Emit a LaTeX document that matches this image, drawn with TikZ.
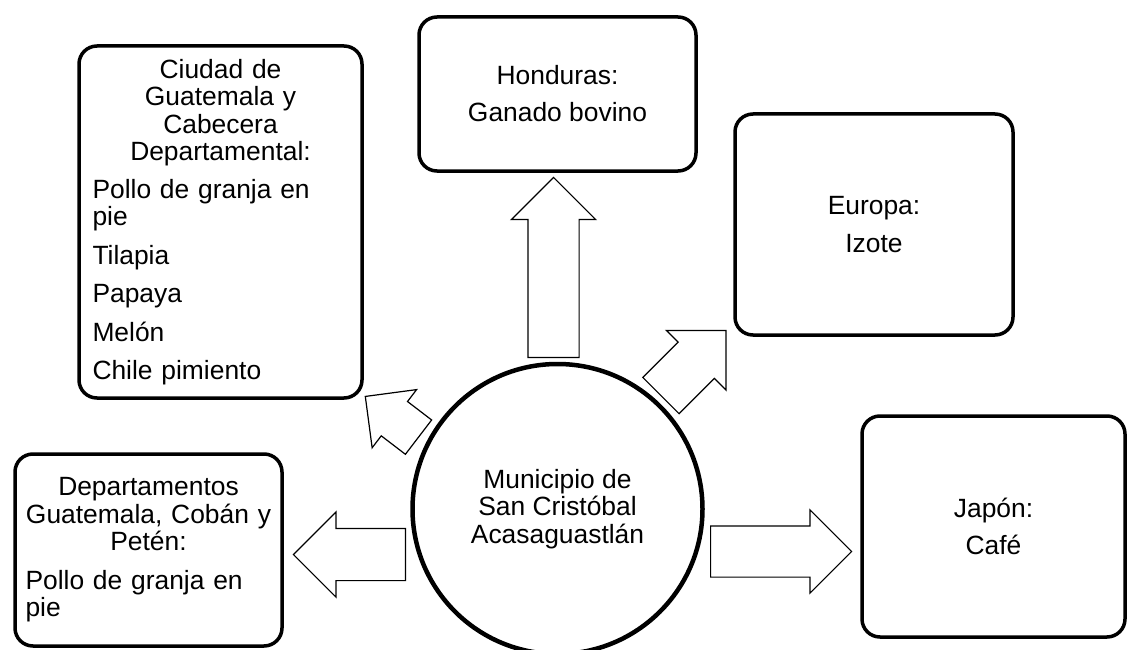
\documentclass[tikz,border=0pt]{standalone}
\usepackage{fontspec}
\setmainfont{Liberation Sans}
\usetikzlibrary{shapes.arrows}

\tikzstyle{caja} = [rectangle, rounded corners=18pt, draw=black, line width=3.5pt, inner sep=0pt]
\tikzstyle{flecha} = [single arrow, draw=black, line width=1.2pt, inner xsep=0pt, single arrow tip angle=90, anchor=tail]

\begin{document}
\begin{tikzpicture}[x=1pt,y=-1pt,font=\fontsize{26.4}{27.5}\selectfont]
    \useasboundingbox (0,0) rectangle (1127,650);
    % centro
    \node[circle, draw=black, line width=4.5pt, minimum size=290pt, align=center] (mun) at (557.5,509)
    {Municipio de\\San Cristóbal\\Acasaguastlán};
    % destinos
    \node[caja, minimum width=283pt, minimum height=352pt, text width=256pt] (ciudad) at (220.5,222)
    {\centering Ciudad de\\Guatemala y\\Cabecera\\Departamental:\par
    \raggedright\vspace{10pt}Pollo de granja en\\pie\\[11pt]Tilapia\\[11pt]Papaya\\[11pt]Melón\\[11pt]Chile pimiento\par};
    \node[caja, minimum width=277pt, minimum height=154pt, align=center] (honduras) at (557.5,94)
    {Honduras:\\[9.5pt]Ganado bovino};
    \node[caja, minimum width=278pt, minimum height=221pt, align=center] (europa) at (874,224.5)
    {Europa:\\[10.5pt]Izote};
    \node[caja, minimum width=263pt, minimum height=221pt, align=center] (japon) at (993.5,526.5)
    {Japón:\\[9.5pt]Café};
    \node[caja, minimum width=267pt, minimum height=192pt, text width=246pt] (deptos) at (148.5,550)
    {\centering Departamentos\\Guatemala, Cobán y\\Petén:\par
    \raggedright\vspace{11pt}Pollo de granja en\\pie\par};
    % flechas
    \node[flecha, rotate=90, minimum height=180pt, inner ysep=25pt, single arrow head extend=16.5pt] (aHonduras) at (553.5,358) {};
    \node[flecha, rotate=0, minimum height=141pt, inner ysep=25pt, single arrow head extend=16pt] (aJapon) at (710,551.5) {};
    \node[flecha, rotate=180, minimum height=112pt, inner ysep=25.5pt, single arrow head extend=16.5pt] (aDeptos) at (406,554.5) {};
    \node[flecha, rotate=45, minimum height=92pt, inner ysep=25pt, single arrow head extend=16.5pt] (aEuropa) at (660.5,396) {};
    \node[flecha, rotate=142.6, minimum height=67pt, inner ysep=21pt, single arrow head extend=15pt] (aCiudad) at (419,437.5) {};
\end{tikzpicture}
\end{document}
